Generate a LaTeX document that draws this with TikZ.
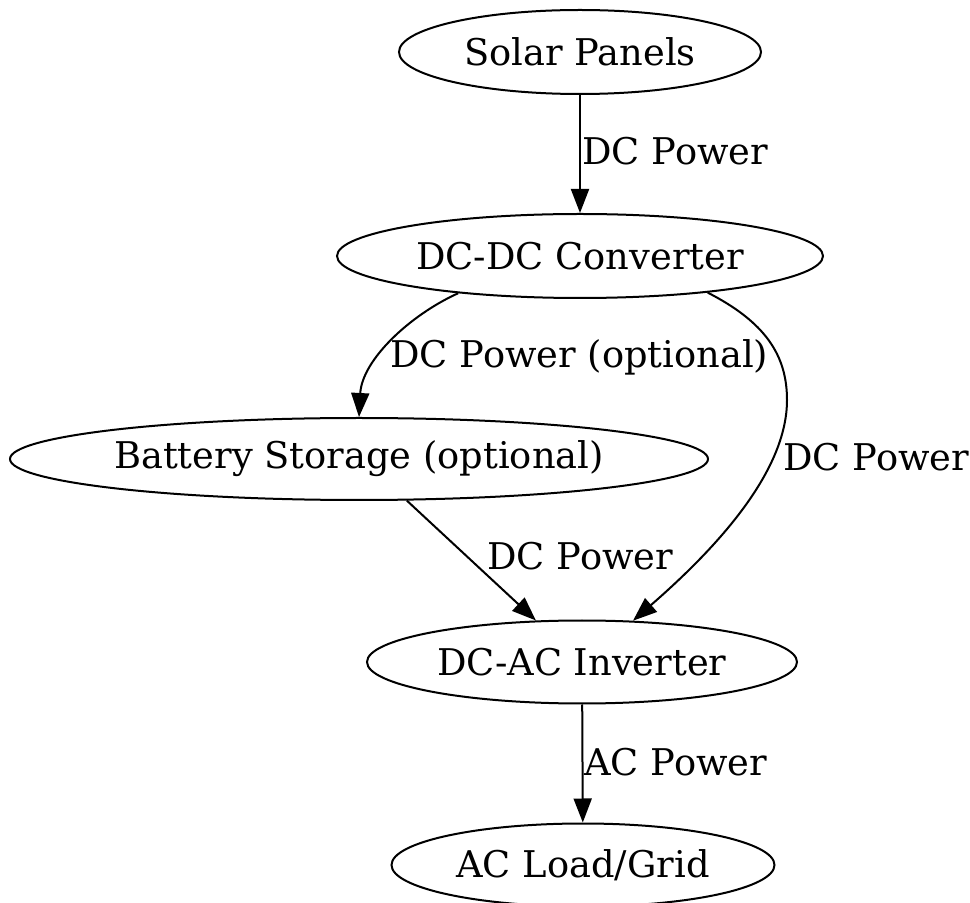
\documentclass[tikz,border=0pt]{standalone}
\usepackage{fontspec}
\setmainfont{DejaVu Serif}
\usetikzlibrary{shapes, arrows.meta, positioning}

\begin{document}
\begin{tikzpicture}[x=0.5pt, y=-0.5pt, >={Triangle[length=12pt, width=9pt]},
    font=\fontsize{18.4}{22}\selectfont,
    stage/.style={ellipse, draw, line width=1pt, inner sep=0pt},
    flow/.style={->, line width=1pt},
    lbl/.style={inner sep=0pt, anchor=base west}]

    \useasboundingbox (0,0) rectangle (970,903);

    % Stages
    \node[stage, minimum width=181pt, minimum height=42pt] at (580,52) (solar) {Solar Panels};
    \node[stage, minimum width=243pt, minimum height=42pt] at (580,256) (dcdc) {DC-DC Converter};
    \node[stage, minimum width=349pt, minimum height=41pt] at (359,459) (battery) {Battery Storage (optional)};
    \node[stage, minimum width=215pt, minimum height=41.5pt] at (582,662) (inverter) {DC-AC Inverter};
    \node[stage, minimum width=191.5pt, minimum height=41.5pt] at (583,865) (load) {AC Load/Grid};

    % Panels to converter
    \draw[flow] (solar) -- (dcdc);
    \node[lbl] at (582,165) (dc1) {DC Power};

    % Converter to battery
    \draw[flow] (dcdc.197) .. controls (410,315) and (362,360) .. (battery.north);
    \node[lbl] at (390,368) (dcopt) {DC Power (optional)};

    % Converter straight to inverter
    \coordinate (bend) at (787,400);
    \draw[flow] (dcdc.344) .. controls (765,322) and (787,355) .. (bend)
        .. controls (787,470) and (720,545) .. (inverter.39);
    \node[lbl] at (783,471) (dc2) {DC Power};

    % Battery to inverter
    \draw[flow] (battery.-41) -- (inverter.138);
    \node[lbl] at (487,570) (dc3) {DC Power};

    % Inverter to grid
    \draw[flow] (inverter) -- (load);
    \node[lbl] at (584,775) (ac) {AC Power};

\end{tikzpicture}
\end{document}
